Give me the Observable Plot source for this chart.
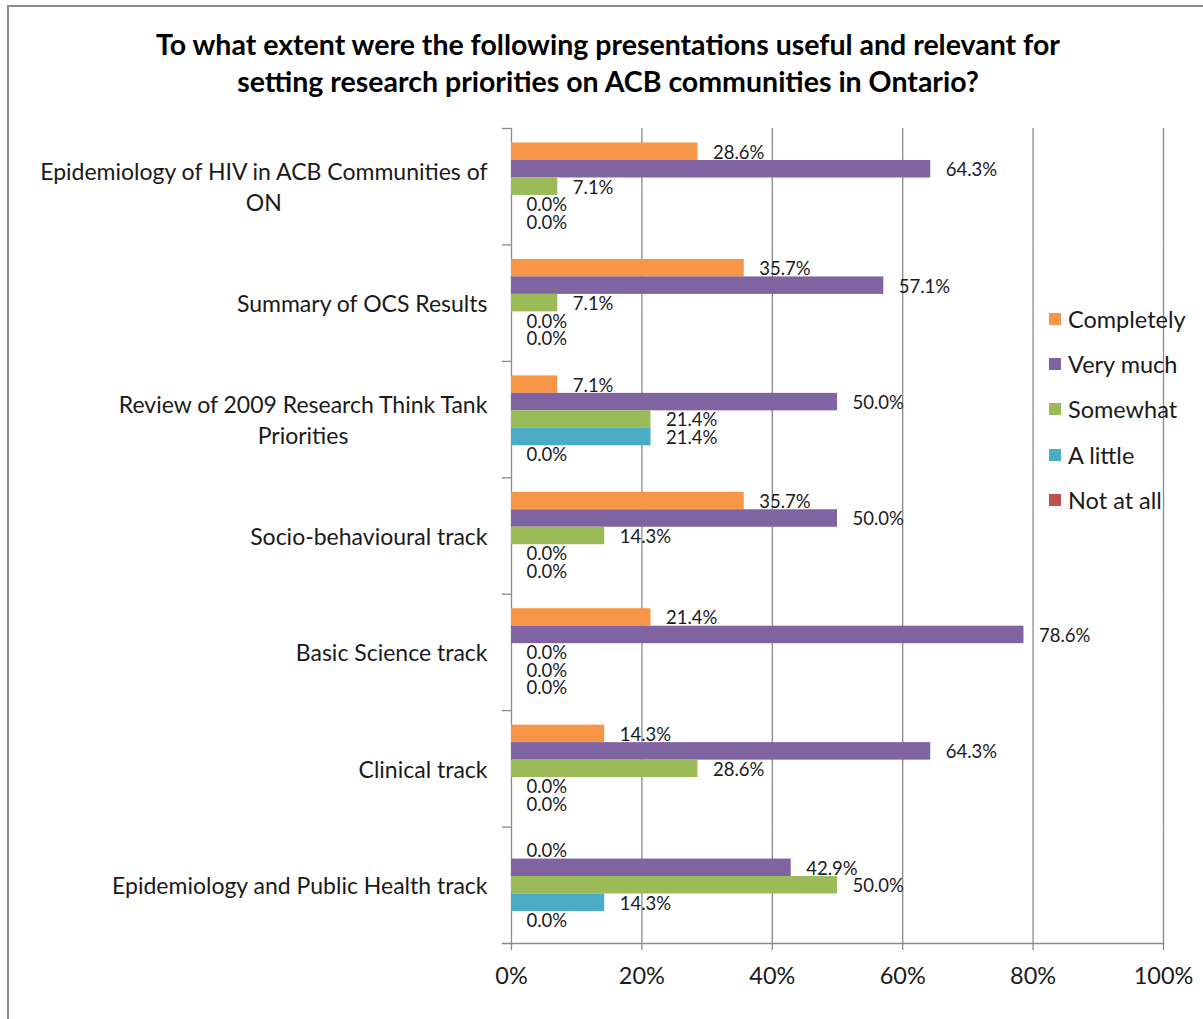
<!DOCTYPE html>
<html><head><meta charset="utf-8">
<script src="https://cdn.jsdelivr.net/npm/d3@7"></script>
<script src="https://cdn.jsdelivr.net/npm/@observablehq/plot@0.6"></script>
<style>
html,body{margin:0;padding:0;background:#fff;}
#wrap{position:relative;width:1203px;height:1019px;overflow:hidden;font-family:Lato, sans-serif;color:#1a1a1a;}
#border{position:absolute;left:7px;top:5px;width:1300px;height:1100px;border-left:2px solid #8c8c8c;border-top:2px solid #8c8c8c;}
#title{position:absolute;left:0;top:26px;width:1216px;text-align:center;font-weight:bold;font-size:28.5px;line-height:37px;color:#000;}
#chart{position:absolute;left:0;top:110px;}
#legend{position:absolute;left:1049px;top:296px;}
.row{display:flex;align-items:center;height:45.3px;font-size:23.5px;}
.sw{width:12px;height:12px;margin-right:7px;flex:none;}
</style></head>
<body><div id="wrap"><div id="border"></div><div id="title"></div><div id="chart"></div><div id="legend"></div></div>
<script>
const titleLines = ["To what extent were the following presentations useful and relevant for", "setting research priorities on ACB communities in Ontario?"];
const categories = ["Epidemiology of HIV in ACB Communities of ON", "Summary of OCS Results", "Review of 2009 Research Think Tank Priorities", "Socio-behavioural track", "Basic Science track", "Clinical track", "Epidemiology and Public Health track"];
const categoryLabels = ["Epidemiology of HIV in ACB Communities of\nON", "Summary of OCS Results", "Review of 2009 Research Think Tank\nPriorities", "Socio-behavioural track", "Basic Science track", "Clinical track", "Epidemiology and Public Health track"];
const series = ["Completely", "Very much", "Somewhat", "A little", "Not at all"];
const completely = [28.6, 35.7, 7.1, 35.7, 21.4, 14.3, 0.0];
const veryMuch   = [64.3, 57.1, 50.0, 50.0, 78.6, 64.3, 42.9];
const somewhat   = [7.1, 7.1, 21.4, 14.3, 0.0, 28.6, 50.0];
const aLittle    = [0.0, 0.0, 21.4, 0.0, 0.0, 0.0, 14.3];
const notAtAll   = [0.0, 0.0, 0.0, 0.0, 0.0, 0.0, 0.0];
const colors = ["#F79646", "#8064A2", "#9BBB59", "#4BACC6", "#C0504D"];
const xTicks = [0, 20, 40, 60, 80, 100];

const seriesValues = [completely, veryMuch, somewhat, aLittle, notAtAll];
const data = categories.flatMap((c, i) => series.map((s, j) => ({category: c, series: s, value: seriesValues[j][i]})));

document.getElementById("title").innerHTML = titleLines.join("<br>");

const gray = "#8a8a8a";
const plot = Plot.plot({
  width: 1203, height: 893,
  marginLeft: 511, marginRight: 40, marginTop: 18, marginBottom: 60,
  style: {fontFamily: "Lato, sans-serif", fontSize: "18px", color: "#1a1a1a", background: "transparent"},
  x: {domain: [0, 100]},
  y: {domain: series, paddingInner: 0, paddingOuter: 0.83, round: false, axis: null},
  fy: {domain: categories, padding: 0, round: false},
  color: {domain: series, range: colors},
  marks: [
    Plot.gridX(xTicks, {stroke: gray, strokeOpacity: 1, strokeWidth: 1.3}),
    Plot.frame({anchor: "top", insetLeft: -9, insetRight: 652, stroke: gray, strokeWidth: 1.3}),
    Plot.frame({anchor: "bottom", facetAnchor: "bottom", insetLeft: -9, stroke: gray, strokeWidth: 1.3}),
    Plot.barX(data, {x: "value", y: "series", fy: "category", fill: "series"}),
    Plot.text(data, {x: "value", y: "series", fy: "category", text: d => d.value.toFixed(1) + "%", textAnchor: "start", dx: 15, dy: 1, fill: "#1a1a1a", fontSize: 18.5}),
    Plot.axisFy({anchor: "left", tickSize: 0, tickPadding: 24, fontSize: 23, lineHeight: 1.33, dy: -1, tickFormat: c => categoryLabels[categories.indexOf(c)], label: null, fill: "#1a1a1a"}),
    Plot.axisX({anchor: "bottom", ticks: xTicks, tickFormat: d => d + "%", tickSize: 7, tickPadding: 17, fontSize: 23.5, label: null, stroke: gray, strokeWidth: 1.3, fill: "#1a1a1a"})
  ]
});
document.getElementById("chart").appendChild(plot);

// center-align multi-line category labels (like the original)
plot.querySelectorAll('[aria-label="fy-axis tick label"] text').forEach(t => {
  if (t.querySelectorAll("tspan").length > 1) {
    const w = t.getBBox().width;
    t.setAttribute("text-anchor", "middle");
    t.setAttribute("transform", (t.getAttribute("transform") || "") + ` translate(${-w / 2},0)`);
  }
});

const legend = document.getElementById("legend");
series.forEach((s, i) => {
  const row = document.createElement("div");
  row.className = "row";
  row.innerHTML = `<span class="sw" style="background:${colors[i]}"></span><span>${s}</span>`;
  legend.appendChild(row);
});
</script></body></html>
